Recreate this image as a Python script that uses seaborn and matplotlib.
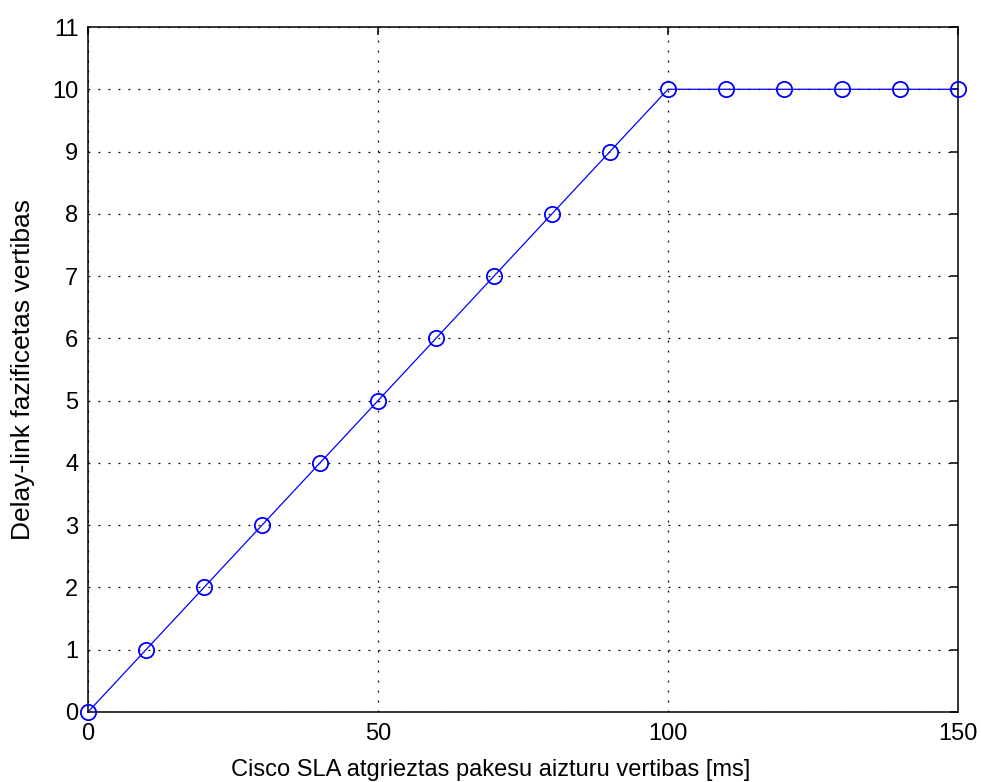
import matplotlib
matplotlib.use("Agg")
import matplotlib.pyplot as plt
import seaborn as sns
import pandas as pd

# Measured delay vs. fuzzified delay-link value
delay_ms = [0, 10, 20, 30, 40, 50, 60, 70, 80, 90, 100, 110, 120, 130, 140, 150]
fuzzy_value = [0, 1, 2, 3, 4, 5, 6, 7, 8, 9, 10, 10, 10, 10, 10, 10]

x_ticks = [0, 50, 100, 150]
y_ticks = list(range(0, 12))

x_label = "Cisco SLA atgrieztas pakesu aizturu vertibas [ms]"
y_label = "Delay-link fazificetas vertibas"

sns.set_style("white")
plt.rcParams["font.family"] = ["Liberation Sans", "DejaVu Sans"]
plt.rcParams["text.color"] = "black"
plt.rcParams["axes.labelcolor"] = "black"

df = pd.DataFrame({"delay": delay_ms, "value": fuzzy_value})

fig = plt.figure(figsize=(9.81, 7.82), dpi=100)
ax = fig.add_axes([88 / 981, 70 / 782, 870 / 981, 685 / 782])

sns.lineplot(data=df, x="delay", y="value", ax=ax, color="#0000ff",
             linewidth=0.9, marker="o", markersize=11,
             markerfacecolor="none", markeredgecolor="#0000ff",
             markeredgewidth=1.3, clip_on=False, zorder=5)

ax.set_xlim(0, 150)
ax.set_ylim(0, 11)
ax.set_xticks(x_ticks)
ax.set_yticks(y_ticks)

ax.grid(True, color="black", linestyle=(0, (1.5, 6.5)), linewidth=0.9)
ax.set_axisbelow(True)

for s in ax.spines.values():
    s.set_visible(True)
    s.set_color("black")
    s.set_linewidth(1.1)

ax.tick_params(axis="both", which="both", direction="in", length=6,
               width=1.1, top=True, right=True, labelsize=17,
               colors="black")
ax.tick_params(axis="x", pad=8)
ax.tick_params(axis="y", pad=7)

ax.set_xlabel(x_label, fontsize=17, color="black")
ax.set_ylabel(y_label, fontsize=19, color="black", labelpad=12)
ax.xaxis.set_label_coords(0.463, -0.068)

fig.savefig("out.png", dpi=100, facecolor="white")
